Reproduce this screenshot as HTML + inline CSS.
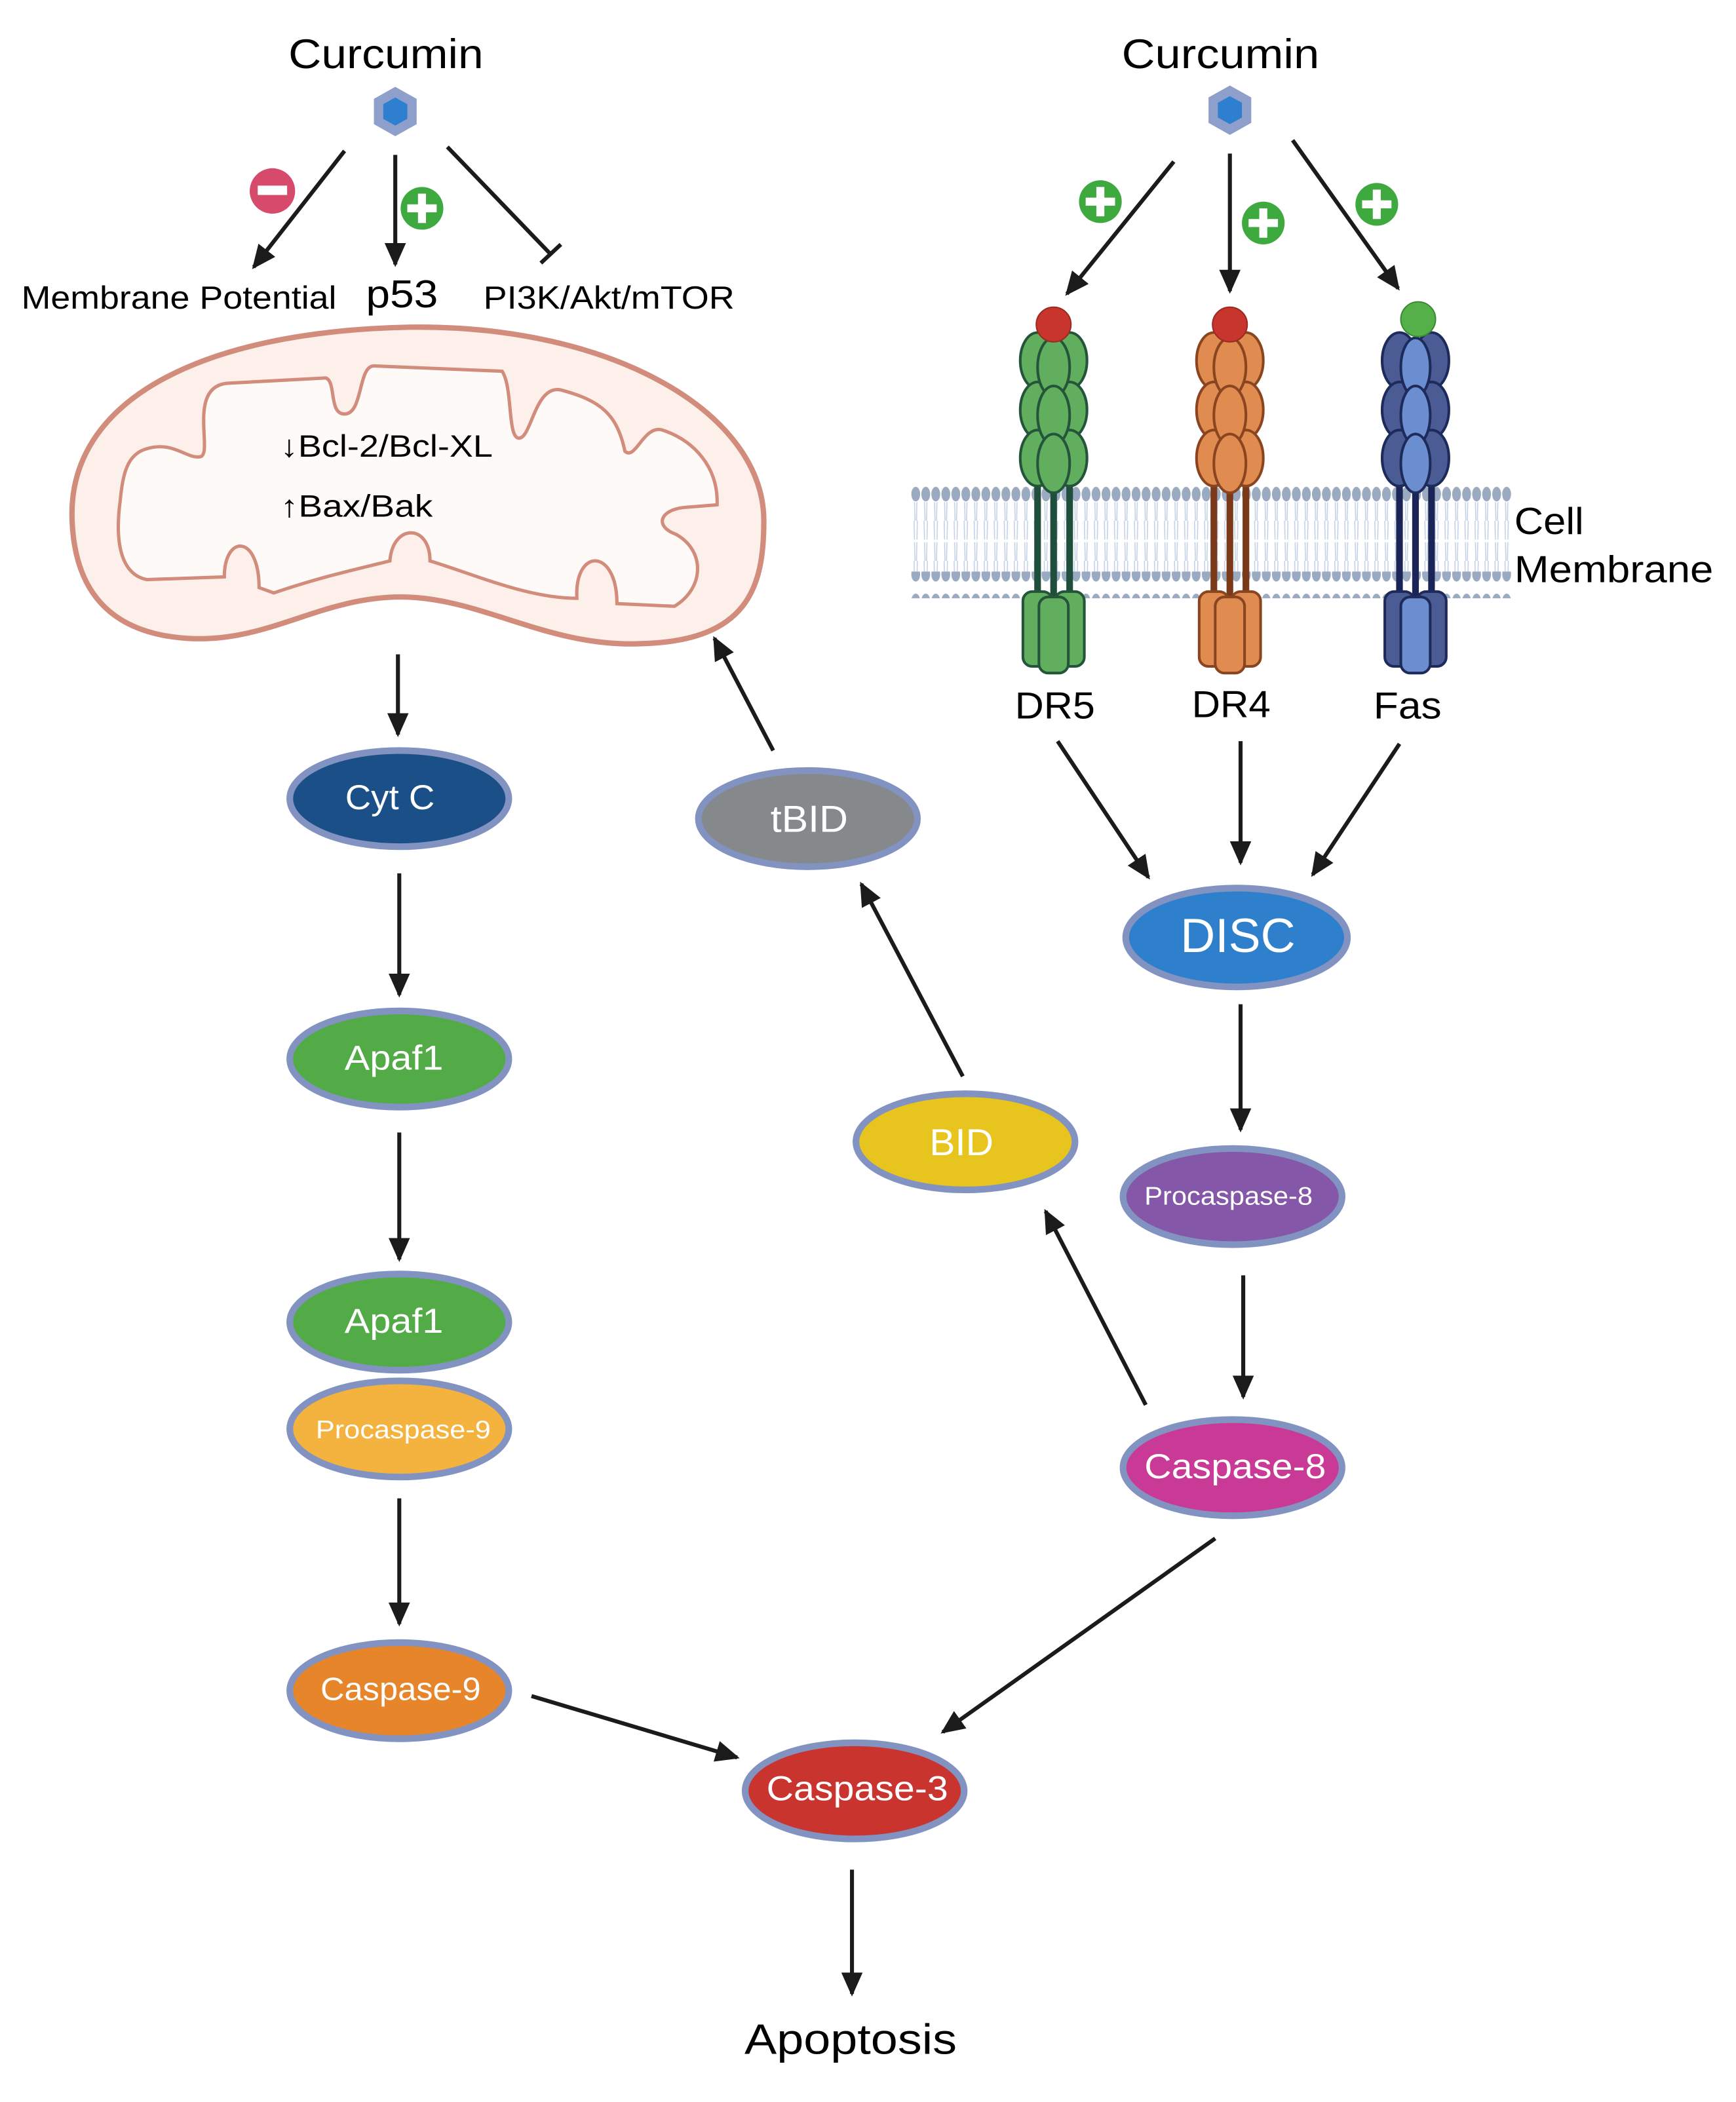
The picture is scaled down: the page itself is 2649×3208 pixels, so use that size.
<!DOCTYPE html>
<html><head><meta charset="utf-8"><style>
html,body{margin:0;padding:0;background:#fff;}
svg{display:block;}
text{font-family:"Liberation Sans",sans-serif;}
</style></head><body>
<svg width="2649" height="3208" viewBox="0 0 1300 1574" preserveAspectRatio="none" xmlns="http://www.w3.org/2000/svg">
<defs>
<marker id="ah" markerUnits="userSpaceOnUse" markerWidth="22" markerHeight="22" refX="16" refY="8" orient="auto">
<path d="M0,0 L18,8 L0,16 Z" fill="#1b1b1b"/>
</marker>
<pattern id="heads" x="682" y="0" width="7.5" height="20" patternUnits="userSpaceOnUse">
<ellipse cx="3.75" cy="10" rx="3.3" ry="5.5" fill="#9aaac0"/>
</pattern>
<pattern id="tails" x="682" y="0" width="7.5" height="30" patternUnits="userSpaceOnUse">
<path d="M2.5,0 L3.2,30 M5,0 L4.3,30" stroke="#c5d2e6" stroke-width="0.8" fill="none"/>
</pattern>
</defs>
<rect width="1300" height="1574" fill="#fff"/>

<!-- LEFT TOP -->
<text x="289" y="51" font-size="31" text-anchor="middle" textLength="146" lengthAdjust="spacingAndGlyphs">Curcumin</text>
<polygon points="296,65 312,74 312,93 296,102 280,93 280,74" fill="#8e9fcb"/>
<polygon points="296,73 305,78 305,89 296,94 287,89 287,78" fill="#2e7fd0"/>
<line x1="258" y1="113" x2="190" y2="200" stroke="#1b1b1b" stroke-width="3" marker-end="url(#ah)"/>
<line x1="296" y1="116" x2="296" y2="198" stroke="#1b1b1b" stroke-width="3" marker-end="url(#ah)"/>
<line x1="335" y1="110" x2="412" y2="190" stroke="#1b1b1b" stroke-width="3"/>
<line x1="405" y1="197" x2="420" y2="183" stroke="#1b1b1b" stroke-width="3"/>
<circle cx="204" cy="143" r="17" fill="#d64b6c"/><rect x="193" y="139" width="22" height="7" fill="#fff"/>
<circle cx="316" cy="156" r="16" fill="#3ea93e"/><rect x="313" y="145" width="6" height="22" fill="#fff"/><rect x="305" y="153" width="22" height="6" fill="#fff"/>
<text x="16" y="231" font-size="24" textLength="236" lengthAdjust="spacingAndGlyphs">Membrane Potential</text>
<text x="301" y="230" font-size="29" text-anchor="middle" textLength="54" lengthAdjust="spacingAndGlyphs">p53</text>
<text x="362" y="231" font-size="24" textLength="188" lengthAdjust="spacingAndGlyphs">PI3K/Akt/mTOR</text>

<!-- Mitochondrion -->
<path d="M54,390 C50,300 150,248 307,245 C460,243 572,310 572,390 C572,440 560,480 480,482 C410,485 360,447 300,447 C240,447 200,482 140,478 C80,474 56,440 54,390 Z" fill="#fdf0ea" stroke="#d28c7c" stroke-width="4"/>
<path d="M90,375 C86,405 90,430 110,434 L168,432 C168,400 194,400 194,440 L205,444 C240,432 268,426 292,420 C294,392 322,392 322,420 C355,430 395,448 432,448 C430,410 462,410 462,452 L505,454 C528,440 528,412 506,400 C490,394 494,382 512,380 L537,378 C538,350 520,330 496,322 C482,318 476,345 468,338 C462,310 450,300 420,292 C400,288 398,330 388,328 C380,326 384,290 376,278 L280,274 C268,274 272,310 258,310 C246,310 252,286 244,283 L170,287 C140,290 160,340 150,342 C140,344 130,330 110,336 C95,340 92,355 90,375 Z" fill="#fefaf8" stroke="#d28c7c" stroke-width="2.5"/>
<text x="210" y="342" font-size="23" textLength="159" lengthAdjust="spacingAndGlyphs">↓Bcl-2/Bcl-XL</text>
<text x="210" y="387" font-size="23" textLength="114" lengthAdjust="spacingAndGlyphs">↑Bax/Bak</text>

<!-- Left column -->
<g stroke="#1b1b1b" stroke-width="3" marker-end="url(#ah)">
<line x1="298" y1="490" x2="298" y2="550"/>
<line x1="299" y1="654" x2="299" y2="745"/>
<line x1="299" y1="848" x2="299" y2="943"/>
<line x1="299" y1="1122" x2="299" y2="1216"/>
<line x1="398" y1="1270" x2="552" y2="1316"/>
<line x1="638" y1="1400" x2="638" y2="1493"/>
<line x1="792" y1="555" x2="860" y2="657"/>
<line x1="929" y1="555" x2="929" y2="646"/>
<line x1="1048" y1="557" x2="983" y2="655"/>
<line x1="929" y1="752" x2="929" y2="846"/>
<line x1="931" y1="955" x2="931" y2="1046"/>
<line x1="910" y1="1152" x2="706" y2="1297"/>
<line x1="858" y1="1052" x2="783" y2="907"/>
<line x1="721" y1="806" x2="645" y2="662"/>
<line x1="579" y1="562" x2="535" y2="478"/>
<line x1="879" y1="121" x2="799" y2="220"/>
<line x1="921" y1="115" x2="921" y2="218"/>
<line x1="968" y1="105" x2="1047" y2="216"/>
</g>

<g stroke="#8293c2" stroke-width="5">
<ellipse cx="299" cy="598" rx="82" ry="36" fill="#1a4f87"/>
<ellipse cx="299" cy="793" rx="82" ry="36" fill="#52ab46"/>
<ellipse cx="299" cy="1070" rx="82" ry="36" fill="#f3b33e"/>
<ellipse cx="299" cy="990" rx="82" ry="36" fill="#52ab46"/>
<ellipse cx="299" cy="1266" rx="82" ry="36" fill="#e7852a"/>
<ellipse cx="640" cy="1341" rx="82" ry="36" fill="#c9342e"/>
<ellipse cx="605" cy="613" rx="82" ry="36" fill="#86898c"/>
<ellipse cx="723" cy="855" rx="82" ry="36" fill="#e8c41f"/>
<ellipse cx="926" cy="702" rx="83" ry="37" fill="#2f80cc"/>
<ellipse cx="923" cy="896" rx="82" ry="36" fill="#8457a8"/>
<ellipse cx="923" cy="1099" rx="82" ry="36" fill="#c93a96"/>
</g>
<g fill="#fff" text-anchor="middle">
<text x="292" y="606" font-size="26" textLength="67" lengthAdjust="spacingAndGlyphs">Cyt C</text>
<text x="295" y="801" font-size="26" textLength="74" lengthAdjust="spacingAndGlyphs">Apaf1</text>
<text x="295" y="998" font-size="26" textLength="74" lengthAdjust="spacingAndGlyphs">Apaf1</text>
<text x="302" y="1077" font-size="19" textLength="131" lengthAdjust="spacingAndGlyphs">Procaspase-9</text>
<text x="300" y="1273" font-size="24" textLength="120" lengthAdjust="spacingAndGlyphs">Caspase-9</text>
<text x="642" y="1348" font-size="26" textLength="136" lengthAdjust="spacingAndGlyphs">Caspase-3</text>
<text x="606" y="623" font-size="28" textLength="58" lengthAdjust="spacingAndGlyphs">tBID</text>
<text x="720" y="865" font-size="28" textLength="48" lengthAdjust="spacingAndGlyphs">BID</text>
<text x="927" y="713" font-size="36" textLength="86" lengthAdjust="spacingAndGlyphs">DISC</text>
<text x="920" y="902" font-size="19" textLength="126" lengthAdjust="spacingAndGlyphs">Procaspase-8</text>
<text x="925" y="1107" font-size="26" textLength="136" lengthAdjust="spacingAndGlyphs">Caspase-8</text>
</g>
<text x="637" y="1538" font-size="32" text-anchor="middle" textLength="159" lengthAdjust="spacingAndGlyphs">Apoptosis</text>

<!-- RIGHT TOP -->
<text x="914" y="51" font-size="31" text-anchor="middle" textLength="148" lengthAdjust="spacingAndGlyphs">Curcumin</text>
<polygon points="921,64 937,73 937,92 921,101 905,92 905,73" fill="#8e9fcb"/>
<polygon points="921,72 930,77 930,88 921,93 912,88 912,77" fill="#2e7fd0"/>
<g fill="#3ea93e">
<circle cx="824" cy="151" r="16"/><circle cx="946" cy="167" r="16"/><circle cx="1031" cy="153" r="16"/>
</g>
<g fill="#fff">
<rect x="821" y="140" width="6" height="22"/><rect x="813" y="148" width="22" height="6"/>
<rect x="943" y="156" width="6" height="22"/><rect x="935" y="164" width="22" height="6"/>
<rect x="1028" y="142" width="6" height="22"/><rect x="1020" y="150" width="22" height="6"/>
</g>

<!-- Membrane -->
<rect x="682" y="376" width="450" height="28" fill="url(#tails)"/>
<rect x="682" y="406" width="450" height="28" fill="url(#tails)"/>
<rect x="682" y="362" width="450" height="20" fill="url(#heads)"/>
<rect x="682" y="428" width="450" height="20" fill="url(#heads)"/>
<text x="1134" y="400" font-size="28" textLength="52" lengthAdjust="spacingAndGlyphs">Cell</text>
<text x="1134" y="436" font-size="28" textLength="149" lengthAdjust="spacingAndGlyphs">Membrane</text>

<!-- Receptors -->
<g id="dr5">
<g stroke="#1f4f3c" stroke-width="5"><line x1="777" y1="350" x2="777" y2="450"/><line x1="789" y1="350" x2="789" y2="455"/><line x1="801" y1="350" x2="801" y2="450"/></g>
<g fill="#60ae5e" stroke="#24553a" stroke-width="2">
<ellipse cx="777" cy="270" rx="13" ry="21"/><ellipse cx="801" cy="270" rx="13" ry="21"/>
<ellipse cx="777" cy="307" rx="13" ry="21"/><ellipse cx="801" cy="307" rx="13" ry="21"/>
<ellipse cx="777" cy="343" rx="13" ry="21"/><ellipse cx="801" cy="343" rx="13" ry="21"/>
<ellipse cx="789" cy="275" rx="12" ry="22"/><ellipse cx="789" cy="311" rx="12" ry="22"/><ellipse cx="789" cy="347" rx="12" ry="22"/>
<rect x="766" y="443" width="22" height="56" rx="7"/><rect x="790" y="443" width="22" height="56" rx="7"/>
<rect x="778" y="447" width="22" height="57" rx="7"/>
</g>
<circle cx="789" cy="243" r="13" fill="#c8352d" stroke="#9a2a22" stroke-width="1"/>
</g>
<g>
<g stroke="#7a3a1a" stroke-width="5"><line x1="909" y1="350" x2="909" y2="450"/><line x1="921" y1="350" x2="921" y2="455"/><line x1="933" y1="350" x2="933" y2="450"/></g>
<g fill="#e08b50" stroke="#8a4520" stroke-width="2">
<ellipse cx="909" cy="270" rx="13" ry="21"/><ellipse cx="933" cy="270" rx="13" ry="21"/>
<ellipse cx="909" cy="307" rx="13" ry="21"/><ellipse cx="933" cy="307" rx="13" ry="21"/>
<ellipse cx="909" cy="343" rx="13" ry="21"/><ellipse cx="933" cy="343" rx="13" ry="21"/>
<ellipse cx="921" cy="275" rx="12" ry="22"/><ellipse cx="921" cy="311" rx="12" ry="22"/><ellipse cx="921" cy="347" rx="12" ry="22"/>
<rect x="898" y="443" width="22" height="56" rx="7"/><rect x="922" y="443" width="22" height="56" rx="7"/>
<rect x="910" y="447" width="22" height="57" rx="7"/>
</g>
<circle cx="921" cy="243" r="13" fill="#c8352d" stroke="#9a2a22" stroke-width="1"/>
</g>
<g>
<g stroke="#1a2456" stroke-width="5"><line x1="1048" y1="350" x2="1048" y2="450"/><line x1="1060" y1="350" x2="1060" y2="455"/><line x1="1072" y1="350" x2="1072" y2="450"/></g>
<g fill="#4b5c95" stroke="#1e2a5a" stroke-width="2">
<ellipse cx="1048" cy="270" rx="13" ry="21"/><ellipse cx="1072" cy="270" rx="13" ry="21"/>
<ellipse cx="1048" cy="307" rx="13" ry="21"/><ellipse cx="1072" cy="307" rx="13" ry="21"/>
<ellipse cx="1048" cy="343" rx="13" ry="21"/><ellipse cx="1072" cy="343" rx="13" ry="21"/>
<rect x="1037" y="443" width="22" height="56" rx="7"/><rect x="1061" y="443" width="22" height="56" rx="7"/>
</g>
<g fill="#6a8ecf" stroke="#1e2a5a" stroke-width="2">
<ellipse cx="1060" cy="275" rx="11" ry="22"/><ellipse cx="1060" cy="311" rx="11" ry="22"/><ellipse cx="1060" cy="347" rx="11" ry="22"/>
<rect x="1049" y="447" width="22" height="57" rx="7"/>
</g>
<circle cx="1062" cy="239" r="13" fill="#56b04a" stroke="#3a8a34" stroke-width="1"/>
</g>
<text x="790" y="538" font-size="28" text-anchor="middle" textLength="60" lengthAdjust="spacingAndGlyphs">DR5</text>
<text x="922" y="537" font-size="28" text-anchor="middle" textLength="59" lengthAdjust="spacingAndGlyphs">DR4</text>
<text x="1054" y="538" font-size="28" text-anchor="middle" textLength="51" lengthAdjust="spacingAndGlyphs">Fas</text>
</svg>
</body></html>
